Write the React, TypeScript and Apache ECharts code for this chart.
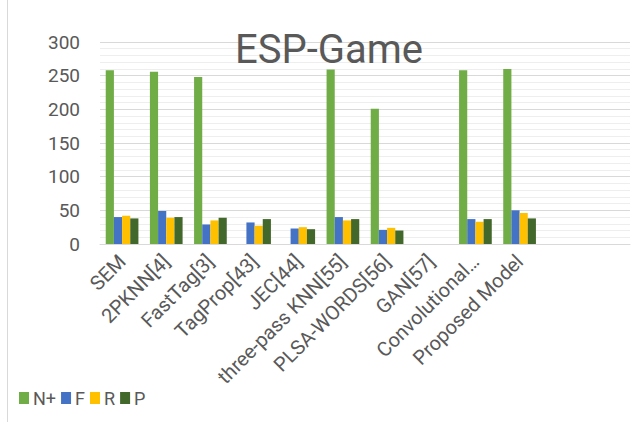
import React, { useEffect, useRef } from "react";
import * as echarts from "echarts";

const categories = [
  "SEM",
  "2PKNN[4]",
  "FastTag[3]",
  "TagProp[43]",
  "JEC[44]",
  "three-pass KNN[55]",
  "PLSA-WORDS[56]",
  "GAN[57]",
  "Convolutional…",
  "Proposed Model",
  "",
  "",
];

const seriesNames = ["N+", "F", "R", "P"];
const nPlus = [258, 256, 248, null, null, 259, 201, null, 258, 260, null, null];
const fScore = [40, 49, 29, 32, 23, 40, 21, null, 37, 50, null, null];
const recall = [42, 39, 35, 27, 25, 35, 24, null, 33, 46, null, null];
const precision = [38, 40, 39, 37, 22, 37, 20, null, 37, 38, null, null];
const yTicks = { min: 0, max: 300, interval: 50 };

const colors = ["#70AD47", "#4472C4", "#FFC000", "#43682B"];
const FONT = "Roboto";
const TEXT = "#595959";

export default function App() {
  const ref = useRef<HTMLDivElement>(null);

  useEffect(() => {
    if (!ref.current) return;
    const chart = echarts.init(ref.current, undefined, { renderer: "svg" });
    const values = [nPlus, fScore, recall, precision];
    chart.setOption({
      animation: false,
      backgroundColor: "#ffffff",
      color: colors,
      title: {
        text: "ESP-Game",
        left: 324,
        top: 24,
        textAlign: "center",
        textStyle: { fontFamily: FONT, fontSize: 40, fontWeight: "normal", color: TEXT },
      },
      legend: {
        left: 14,
        top: 384,
        itemWidth: 10,
        itemHeight: 12,
        itemGap: 5,
        icon: "rect",
        textStyle: { fontFamily: FONT, fontSize: 18, color: TEXT, padding: [0, 0, 0, -1] },
        data: seriesNames,
      },
      grid: { left: 100, right: 6, top: 42, bottom: 178, containLabel: false },
      xAxis: {
        type: "category",
        data: categories,
        axisLine: { lineStyle: { color: "#d9d9d9", width: 1 } },
        axisTick: { show: false },
        axisLabel: {
          rotate: 45,
          interval: 0,
          margin: 14,
          fontFamily: FONT,
          fontSize: 20,
          color: TEXT,
        },
      },
      yAxis: {
        type: "value",
        min: yTicks.min,
        max: yTicks.max,
        interval: yTicks.interval,
        axisLine: { show: false },
        axisTick: { show: false },
        axisLabel: { fontFamily: FONT, fontSize: 19, color: TEXT, margin: 20 },
        splitLine: { lineStyle: { color: "#d9d9d9", width: 1 } },
        minorTick: { show: false, splitNumber: 5 },
        minorSplitLine: { show: true, lineStyle: { color: "#eeeeee", width: 1 } },
      },
      graphic: [
        {
          type: "line",
          shape: { x1: 7.5, y1: 0, x2: 7.5, y2: 422 },
          style: { stroke: "#d9d9d9", lineWidth: 1 },
        },
      ],
      series: seriesNames.map((name, i) => ({
        name,
        type: "bar",
        data: values[i],
        barGap: "0%",
        barCategoryGap: "26%",
      })),
    });
    return () => chart.dispose();
  }, []);

  return (
    <div
      ref={ref}
      style={{ position: "absolute", left: 0, top: 0, width: 636, height: 422 }}
    />
  );
}
